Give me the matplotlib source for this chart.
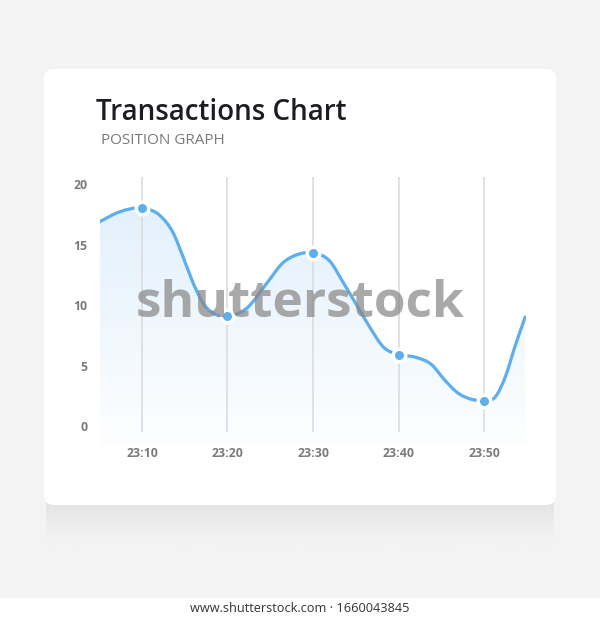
import numpy as np
import matplotlib.pyplot as plt
from matplotlib.patches import FancyBboxPatch, PathPatch
from matplotlib.path import Path
from matplotlib.colors import LinearSegmentedColormap

# readings taken off the curve, x in minutes after 23:00
curve_x = [5.1, 7.4, 10.0, 12.1, 13.7, 14.8, 16.0, 17.2, 18.7, 20.0, 22.2, 24.6, 26.5, 28.1, 30.0,
           32.0, 33.5, 35.1, 36.7, 38.2, 40.0, 41.9, 43.9, 45.4, 47.0, 48.6, 50.0,
           51.3, 52.5, 53.6, 54.8]
curve_y = [16.9, 17.7, 18.0, 17.4, 15.9, 14.0, 11.8, 10.1, 9.2, 9.1, 9.7, 11.8, 13.5, 14.15, 14.3,
           13.6, 11.9, 10.0, 8.1, 6.55, 5.9, 5.7, 5.05, 3.8, 2.7, 2.2, 2.1,
           2.4, 4.1, 6.55, 9.0]

# highlighted points
point_x = [10, 20, 30, 40, 50]
point_y = [18.0, 9.1, 14.3, 5.9, 2.1]
x_labels = ['23:10', '23:20', '23:30', '23:40', '23:50']
y_ticks = [0, 5, 10, 15, 20]

LINE = '#5caeed'
BG = '#f3f3f3'


def bezier_path(xs, ys, bottom=None):
    # smooth curve through the readings as cubic bezier segments
    xs = np.asarray(xs, float)
    ys = np.asarray(ys, float)
    n = len(xs)
    h = np.diff(xs)
    d = np.diff(ys) / h
    m = np.zeros(n)
    m[0] = d[0]
    m[-1] = d[-1]
    for i in range(1, n - 1):
        m[i] = (d[i - 1] * h[i] + d[i] * h[i - 1]) / (h[i - 1] + h[i])
    verts = [(xs[0], ys[0])]
    codes = [Path.MOVETO]
    for i in range(n - 1):
        verts += [(xs[i] + h[i] / 3, ys[i] + m[i] * h[i] / 3),
                  (xs[i + 1] - h[i] / 3, ys[i + 1] - m[i + 1] * h[i] / 3),
                  (xs[i + 1], ys[i + 1])]
        codes += [Path.CURVE4] * 3
    if bottom is not None:
        verts += [(xs[-1], bottom), (xs[0], bottom), (xs[0], ys[0])]
        codes += [Path.LINETO, Path.LINETO, Path.CLOSEPOLY]
    return Path(verts, codes)


fig = plt.figure(figsize=(6, 6.2), dpi=100)
fig.patch.set_facecolor(BG)

# background layer in pixel coordinates
bg = fig.add_axes([0, 0, 1, 1])
bg.set_xlim(0, 600)
bg.set_ylim(620, 0)
bg.axis('off')

shadow = np.linspace(1, 0, 60).reshape(-1, 1) ** 1.5
shadow_cmap = LinearSegmentedColormap.from_list('sh', [BG, '#e0e0e0'])
bg.imshow(shadow, extent=[46, 554, 546, 498], cmap=shadow_cmap, aspect='auto',
          vmin=0, vmax=1, zorder=1)
card = FancyBboxPatch((44, 69), 512, 436, boxstyle='round,pad=0,rounding_size=10',
                      facecolor='white', edgecolor='none', zorder=2)
bg.add_patch(card)
bg.add_patch(plt.Rectangle((0, 598), 600, 22, facecolor='white', edgecolor='none', zorder=2))

fig.text(96 / 600, 1 - 113 / 620, 'Transactions Chart', fontsize=20, fontfamily='Open Sans',
         fontweight='semibold', color='#1c1c22', va='center', ha='left')
fig.text(101 / 600, 1 - 141 / 620, 'POSITION GRAPH', fontsize=11, fontfamily='Open Sans',
         color='#7a7a7a', va='center', ha='left')
fig.text(0.5, 1 - 609 / 620, 'www.shutterstock.com \u00b7 1660043845', fontsize=9.2,
         fontfamily='Open Sans', color='#333333', va='center', ha='center')

# chart
ax = fig.add_axes([100 / 600, 0.2816, 426 / 600, 0.4353])
ax.set_facecolor('none')
ax.set_xlim(5.1, 54.9)
ax.set_ylim(-1.6, 20.7)
for s in ax.spines.values():
    s.set_visible(False)

ax.vlines(point_x, -0.5, 20.6, color='#dcdcdc', lw=1.2, zorder=1)

fill_path = bezier_path(curve_x, curve_y, bottom=-1.6)
clip = PathPatch(fill_path, transform=ax.transData, facecolor='none', edgecolor='none')
ax.add_patch(clip)
grad = np.linspace(0, 1, 200).reshape(-1, 1)
fill_cmap = LinearSegmentedColormap.from_list('fill', ['#fdfeff', '#e2f0fc'])
im = ax.imshow(grad, extent=[5.1, 54.9, -1.6, 18.5], origin='lower', cmap=fill_cmap,
               aspect='auto', zorder=0)
im.set_clip_path(clip)

ax.add_patch(PathPatch(bezier_path(curve_x, curve_y), transform=ax.transData,
                       facecolor='none', edgecolor=LINE, lw=2.3, capstyle='round', zorder=3))
ax.plot(point_x, point_y, 'o', ms=9, mfc=LINE, mec='white', mew=2.5, zorder=4)

ax.set_xticks(point_x)
ax.set_xticklabels(x_labels)
ax.set_yticks(y_ticks)
ax.set_yticklabels([str(v) for v in y_ticks])
ax.tick_params(length=0, colors='#7a7a7a', labelsize=8.8)
ax.tick_params(axis='y', pad=9)
ax.tick_params(axis='x', pad=1)
for lbl in ax.get_xticklabels() + ax.get_yticklabels():
    lbl.set_fontfamily('Open Sans')
    lbl.set_fontweight('bold')

# watermark
fig.text(0.5, 1 - 304 / 620, 'shutterstock', fontsize=37, fontfamily='Open Sans',
         fontweight='bold', color='#888888', alpha=0.72, ha='center', va='center')

fig.savefig('out.png', dpi=100, facecolor=BG)
